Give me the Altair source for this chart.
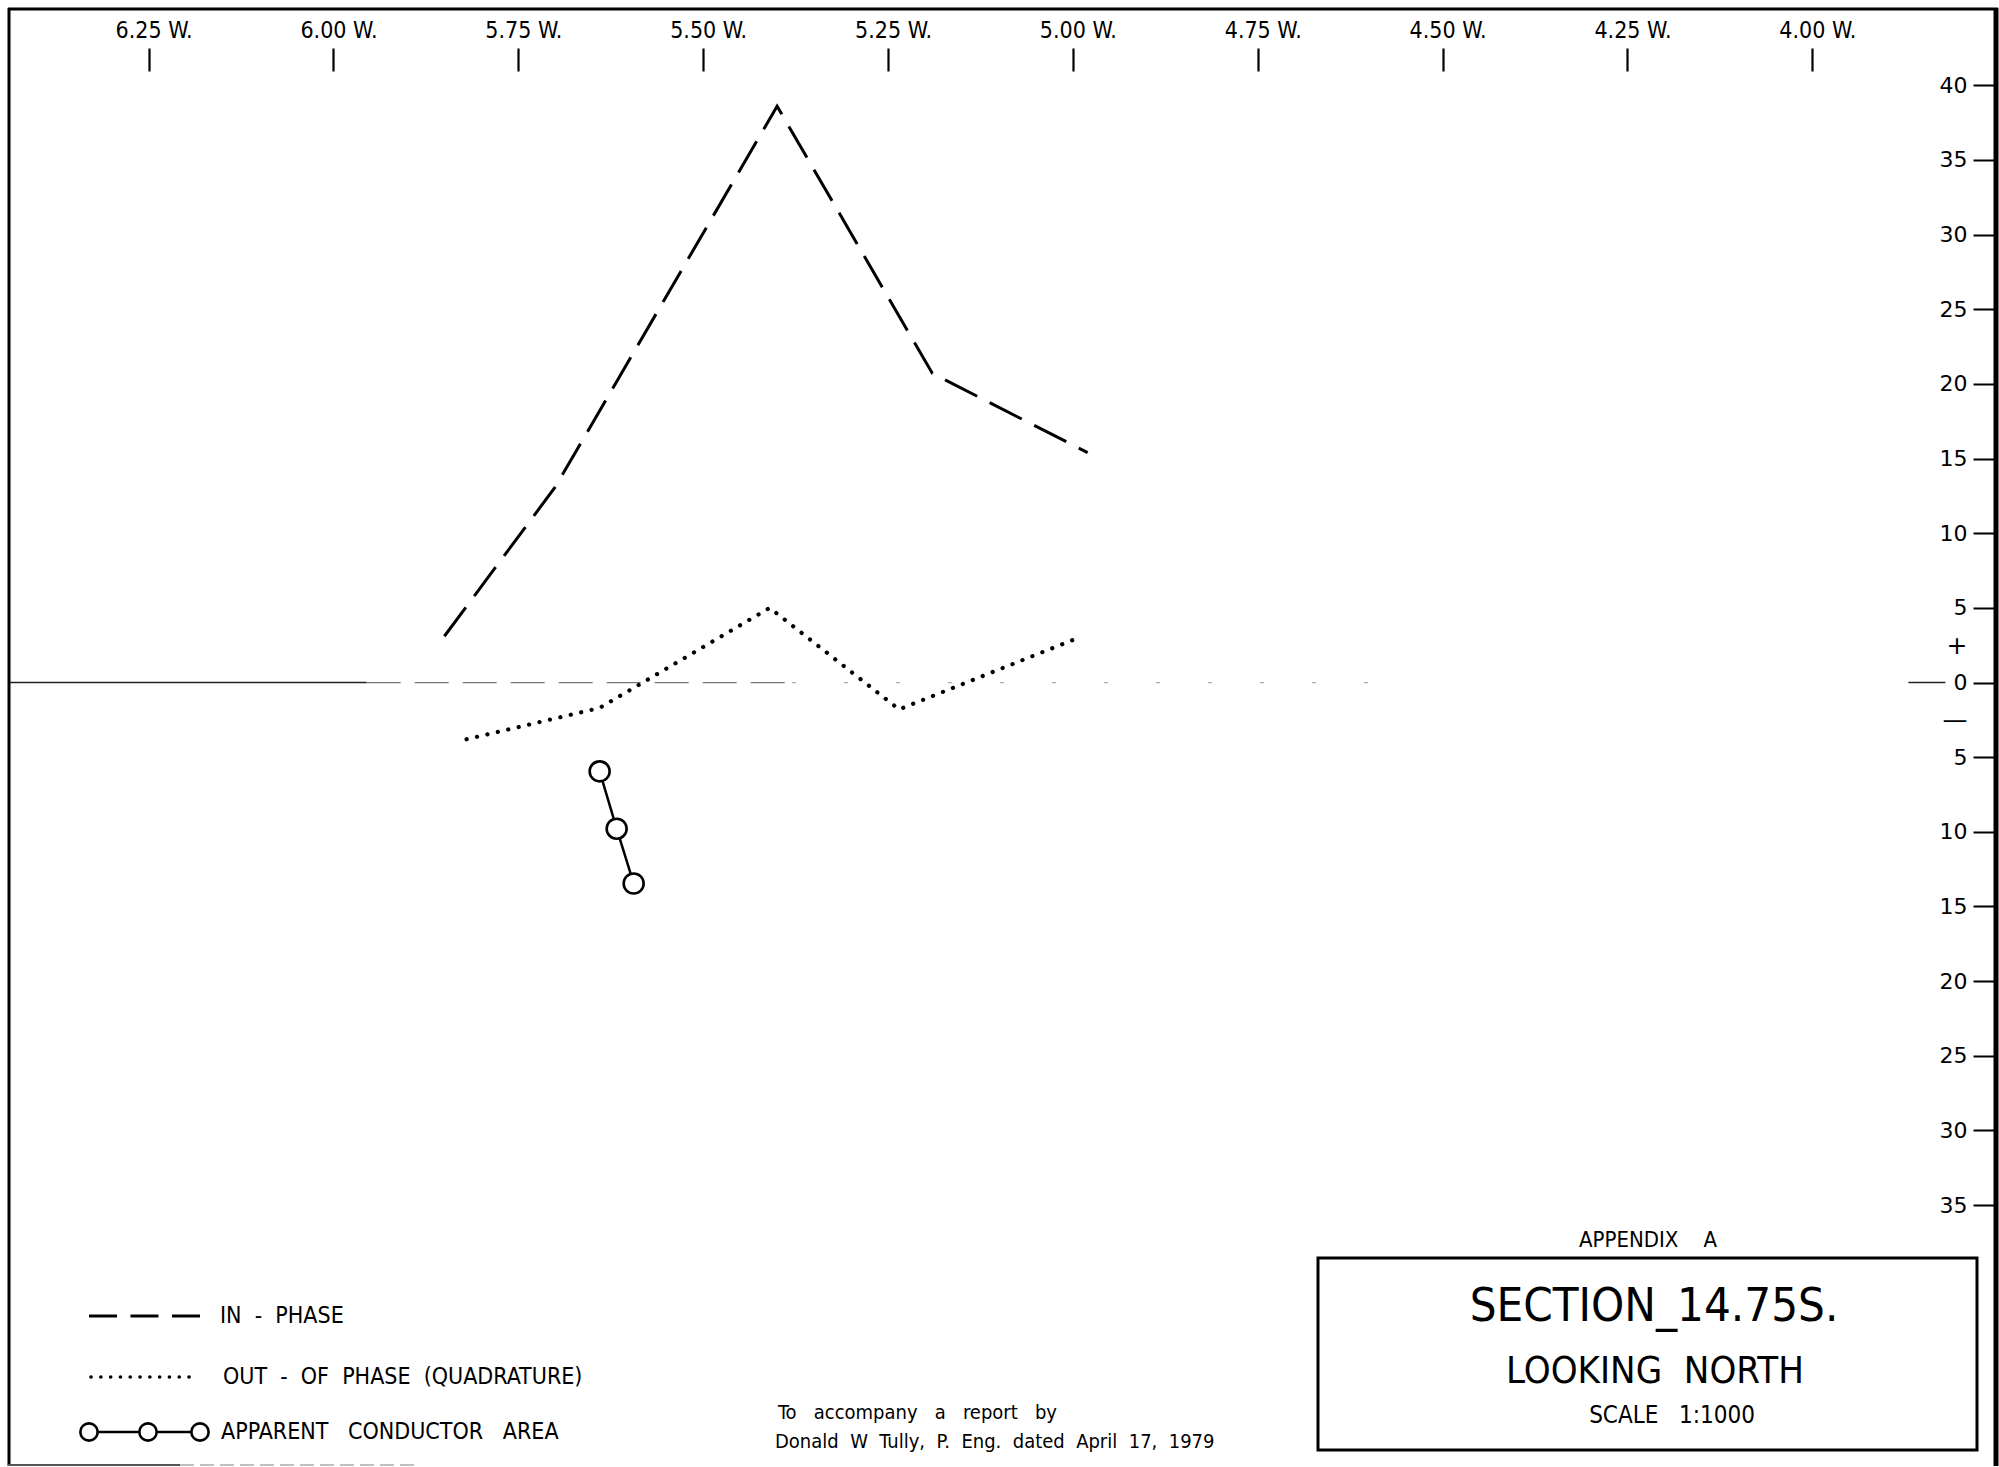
import altair as alt
import pandas as pd

# ---- survey readings (station in hundreds of feet west, reading in %) ----
in_phase_station = [5.85, 5.70, 5.40, 5.19, 4.98]
in_phase_value = [3.1, 13.1, 38.6, 20.7, 15.4]

quad_station = [5.82, 5.64, 5.41, 5.235, 5.00]
quad_value = [-3.8, -1.7, 5.0, -1.8, 2.85]

conductor_station = [5.640, 5.617, 5.594]
conductor_depth = [-5.95, -9.79, -13.46]

# ---- axis ticks ----
station_ticks = [6.25, 6.00, 5.75, 5.50, 5.25, 5.00, 4.75, 4.50, 4.25, 4.00]
reading_ticks = [40, 35, 30, 25, 20, 15, 10, 5, 2.5, 0, -2.5,
                 -5, -10, -15, -20, -25, -30, -35]

# ---- zero reference line pieces (station extents) ----
zero_solid_start = [6.44, 3.87]
zero_solid_end = [5.955, 3.82]
zero_broken_start = [5.955]
zero_broken_end = [5.38]
zero_faint_start = [5.38]
zero_faint_end = [4.60]

W, H = 1999, 1467
NARROW = "Liberation Sans Narrow, DejaVu Sans Condensed, Liberation Sans, sans-serif"
PLAIN = "DejaVu Sans, Liberation Sans, sans-serif"
SP = "\u00a0"  # non-collapsing space for hand-lettered spacing

x_scale = alt.Scale(domain=[4.0, 6.25], range=[1812.3, 148.6], nice=False, zero=False)
y_scale = alt.Scale(domain=[-35, 40], range=[1205.1, 85.3], nice=False, zero=False)

x_axis = alt.Axis(
    orient="top", values=station_ticks, offset=-71, tickSize=23, tickWidth=2.2,
    tickColor="black", domain=False, grid=False, title=None,
    labelExpr="format(datum.value, '.2f') + ' W.'",
    labelFont=NARROW, labelFontSize=23, labelColor="black",
    labelPadding=6, labelOffset=5, labelFlush=False, labelOverlap=False,
)
y_axis = alt.Axis(
    orient="left", values=reading_ticks, offset=-1997, tickSize=24, tickWidth=2,
    tickColor="black", domain=False, grid=False, title=None,
    tickOpacity={"condition": {"test": "abs(datum.value) == 2.5", "value": 0}, "value": 1},
    labelFontSize={"condition": {"test": "abs(datum.value) == 2.5", "value": 25}, "value": 22},
    labelExpr="datum.value == 2.5 ? '+' : (datum.value == -2.5 ? '\u2014' : format(abs(datum.value), 'd'))",
    labelFont=PLAIN, labelColor="black", labelPadding=6,
    labelBaseline="middle", labelFlush=False, labelOverlap=False,
)

X = lambda f: alt.X(f, type="quantitative", scale=x_scale, axis=x_axis)
Y = lambda f: alt.Y(f, type="quantitative", scale=y_scale, axis=y_axis)


def seg_df(starts, ends):
    return pd.DataFrame({"station": starts, "station_end": ends, "reading": [0] * len(starts)})


zero_solid = alt.Chart(seg_df(zero_solid_start, zero_solid_end)).mark_rule(
    color="#222", strokeWidth=1.6
).encode(x=X("station"), x2="station_end", y=Y("reading"))

zero_broken = alt.Chart(seg_df(zero_broken_start, zero_broken_end)).mark_rule(
    color="#777", strokeWidth=1.3, strokeDash=[34, 14]
).encode(x=X("station"), x2="station_end", y=Y("reading"))

zero_faint = alt.Chart(seg_df(zero_faint_start, zero_faint_end)).mark_rule(
    color="#aaa", strokeWidth=1.2, strokeDash=[4, 48]
).encode(x=X("station"), x2="station_end", y=Y("reading"))

in_phase = alt.Chart(pd.DataFrame({"station": in_phase_station, "reading": in_phase_value})).mark_line(
    color="black", strokeWidth=3, strokeDash=[36, 14], strokeJoin="miter"
).encode(x=X("station"), y=Y("reading"))

quadrature = alt.Chart(pd.DataFrame({"station": quad_station, "reading": quad_value})).mark_line(
    color="black", strokeWidth=4.2, strokeDash=[0.1, 10.6], strokeCap="round"
).encode(x=X("station"), y=Y("reading"))

cond_df = pd.DataFrame({"station": conductor_station, "reading": conductor_depth})
conductor_line = alt.Chart(cond_df).mark_line(color="black", strokeWidth=2.5).encode(
    x=X("station"), y=Y("reading")
)
conductor_pts = alt.Chart(cond_df).mark_point(
    shape="circle", size=400, fill="white", fillOpacity=1, stroke="black",
    strokeWidth=2.6, opacity=1
).encode(x=X("station"), y=Y("reading"))

one = pd.DataFrame({"k": [0]})


def rule(x, x2, y, y2, width=3, color="black", dash=None, cap="butt"):
    kw = dict(color=color, strokeWidth=width, strokeCap=cap)
    if dash:
        kw["strokeDash"] = dash
    return alt.Chart(one).mark_rule(**kw).encode(
        x=alt.value(x), x2=alt.value(x2), y=alt.value(y), y2=alt.value(y2)
    )


def text(s, x, y, size, font=NARROW, align="left"):
    return alt.Chart(one).mark_text(
        text=s, align=align, baseline="middle", font=font, fontSize=size, color="black"
    ).encode(x=alt.value(x), y=alt.value(y))


def ring(x, y, size=300):
    return alt.Chart(one).mark_point(
        shape="circle", size=size, fill="white", fillOpacity=1, stroke="black",
        strokeWidth=2.6, opacity=1
    ).encode(x=alt.value(x), y=alt.value(y))


def spaced(s, n=2):
    return s.replace(" ", SP * n)


# sheet frame
frame = [
    rule(8, 1998, 9, 9, width=3),
    rule(9, 9, 8, 1466, width=3),
    rule(1996, 1996, 8, 1466, width=5),
    rule(8, 180, 1465, 1465, width=2, color="#555"),
    rule(180, 420, 1465, 1465, width=1.5, color="#aaa", dash=[14, 6]),
]

# legend
legend = [
    rule(89, 200, 1316, 1316, width=3, dash=[28, 13.5]),
    text(spaced("IN - PHASE"), 220, 1316, 23),
    rule(91, 198, 1377, 1377, width=3.6, dash=[0.1, 9.7], cap="round"),
    text(spaced("OUT - OF PHASE (QUADRATURE)"), 223, 1377, 23),
    rule(89, 200, 1432, 1432, width=2.5),
    ring(89, 1432), ring(148, 1432), ring(200, 1432),
    text(spaced("APPARENT CONDUCTOR AREA", 3), 221, 1432, 23),
]

# credit note
note = [
    text(spaced("To accompany a report by", 3), 778, 1413, 20),
    text(spaced("Donald W Tully, P. Eng. dated April 17, 1979", 2), 775, 1442, 20),
]

# title block
title_block = [
    text(spaced("APPENDIX A", 4), 1648, 1240, 22, align="center"),
    alt.Chart(one).mark_rect(fill=None, stroke="black", strokeWidth=3).encode(
        x=alt.value(1318), x2=alt.value(1977), y=alt.value(1258), y2=alt.value(1450)
    ),
    text("SECTION_14.75S.", 1654, 1307, 47, align="center"),
    text(spaced("LOOKING NORTH"), 1655, 1372, 38, align="center"),
    text(spaced("SCALE 1:1000", 3), 1672, 1416, 24, align="center"),
]

chart = alt.layer(
    zero_solid, zero_broken, zero_faint,
    in_phase, quadrature, conductor_line, conductor_pts,
    *frame, *legend, *note, *title_block,
).properties(
    width=W, height=H, autosize=alt.AutoSizeParams(type="none"), padding=0,
    background="white",
).configure_view(stroke=None)

chart.save("out.html", embed_options={"renderer": "svg", "actions": False})
